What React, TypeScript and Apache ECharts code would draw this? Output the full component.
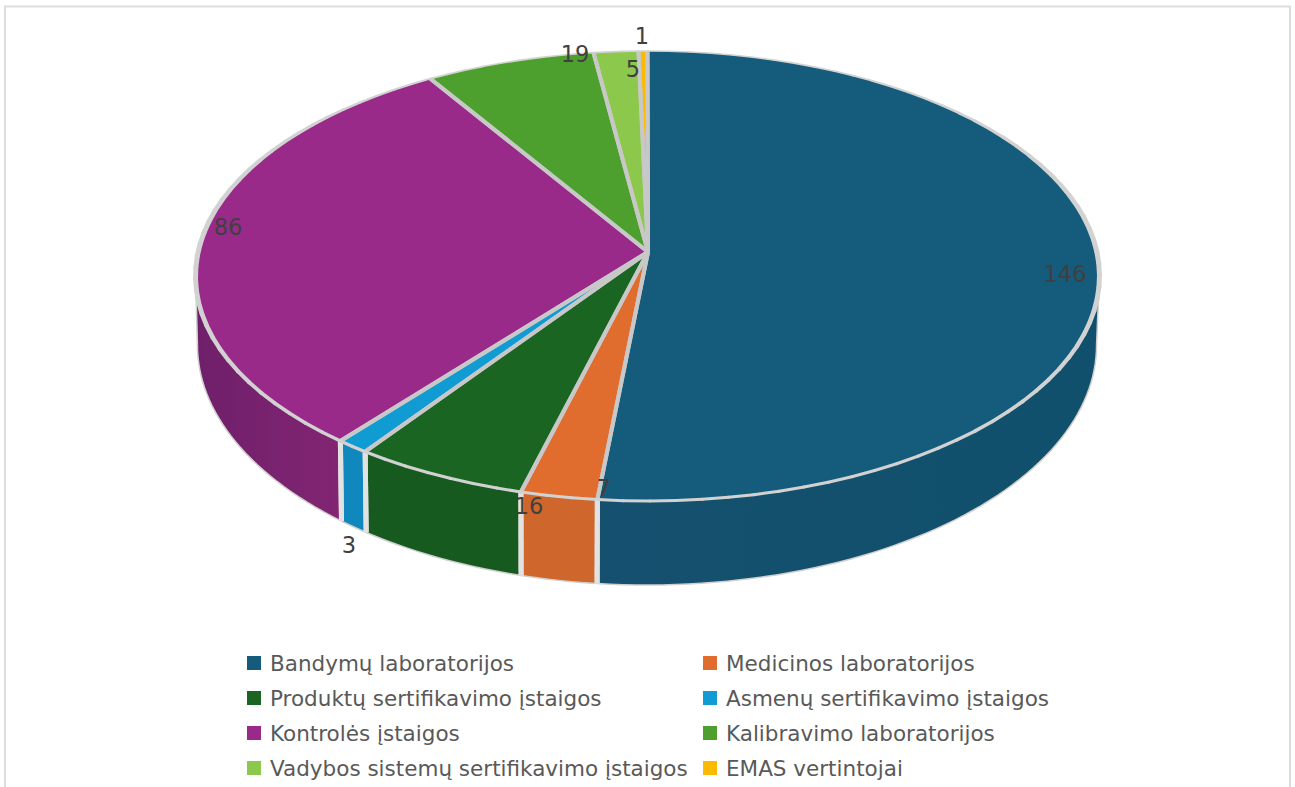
import React, { useEffect, useRef } from "react";
import * as echarts from "echarts";

const categories = [
  "Bandymų laboratorijos",
  "Medicinos laboratorijos",
  "Produktų sertifikavimo įstaigos",
  "Asmenų sertifikavimo įstaigos",
  "Kontrolės įstaigos",
  "Kalibravimo laboratorijos",
  "Vadybos sistemų sertifikavimo įstaigos",
  "EMAS vertintojai",
];
const values = [146, 7, 16, 3, 86, 19, 5, 1];
const topColors = ["#155b7c", "#e06c2e", "#1b6523", "#119bd3", "#992a8a", "#4ea02e", "#8cc84b", "#fbb900"];
const wallStart = ["#15506f", "#cf662b", "#165a1f", "#1088bd", "#6f1f6a", "#459628", "#80bb42", "#e0a800"];
const wallEnd = ["#10506d", "#cf662b", "#165a1f", "#1088bd", "#822573", "#459628", "#80bb42", "#e0a800"];
const labelCentres: number[][] = [
  [1065, 274], [604, 488], [529, 506], [349, 545], [228, 227], [575, 54], [633, 69], [642, 36],
];

const total = values.reduce((a, b) => a + b, 0);
const k = 0.1067;
const topPlane = { x0: 647.5, y0: 252, a: 449.4, b: 222.4 };
const basePlane = { x0: 647, y0: 319.4, a: 447, b: 237.3 };
const WALL_FROM = 96;
const WALL_TO = 264;
const FONT = "'DejaVu Sans'";

function rim(p: typeof topPlane, deg: number): number[] {
  const t = (deg * Math.PI) / 180;
  const u = Math.sin(t);
  const v = -Math.cos(t);
  const d = 1 - k * v;
  return [p.x0 + (p.a * u) / d, p.y0 + (p.b * v) / d];
}

function arcPoints(p: typeof topPlane, from: number, to: number): number[][] {
  const n = Math.max(2, Math.ceil((to - from) / 1.5));
  const pts: number[][] = [];
  for (let i = 0; i <= n; i++) pts.push(rim(p, from + ((to - from) * i) / n));
  return pts;
}

function rimWidth(deg: number): number {
  const t = (deg * Math.PI) / 180;
  const s2 = Math.sin(t) * Math.sin(t);
  return s2 * s2 * 5 + (1 - s2 * s2) * (Math.cos(t) > 0 ? 1.6 : 3);
}

function makeRender(index: number) {
  return (_params: any, api: any) => {
    const value = api.value(0);
    const before = values.slice(0, index).reduce((a, b) => a + b, 0);
    const from = (before / total) * 360;
    const to = ((before + value) / total) * 360;
    const children: any[] = [];

    const wFrom = Math.max(from, WALL_FROM);
    const wTo = Math.min(to, WALL_TO);
    if (wTo > wFrom) {
      const upper = arcPoints(topPlane, wFrom, wTo);
      const lower = arcPoints(basePlane, wFrom, wTo);
      children.push({
        type: "polygon",
        z2: 1,
        shape: { points: upper.concat(lower.slice().reverse()) },
        style: {
          fill: new echarts.graphic.LinearGradient(0, 0, 1, 0, [
            { offset: 0, color: wallStart[index] },
            { offset: 1, color: wallEnd[index] },
          ]),
        },
      });
      children.push({
        type: "polyline",
        z2: 2,
        shape: { points: lower },
        style: { fill: "none", stroke: "#cfcfcf", lineWidth: 1.5 },
      });
      [wFrom, wTo].forEach((deg, i) => {
        const open = i === 0 ? wFrom === from : wTo === to;
        const a = rim(topPlane, deg);
        const b = rim(basePlane, deg);
        children.push({
          type: "line",
          z2: open ? 3 : 2,
          shape: { x1: a[0], y1: a[1], x2: b[0], y2: b[1] },
          style: { stroke: open ? "#e2e2e2" : "#cfcfcf", lineWidth: open ? 5 : 1.5 },
        });
      });
    }

    const apex = [topPlane.x0 + 0.5, topPlane.y0];
    children.push({
      type: "polygon",
      z2: 10,
      shape: { points: [apex].concat(arcPoints(topPlane, from, to)) },
      style: { fill: topColors[index] },
    });
    [from, to].forEach((deg) => {
      const e = rim(topPlane, deg);
      children.push({
        type: "line",
        z2: 11,
        shape: { x1: apex[0], y1: apex[1], x2: e[0], y2: e[1] },
        style: { stroke: "#c8c8c8", lineWidth: 4 },
      });
    });
    const steps = Math.max(1, Math.ceil((to - from) / 3));
    for (let i = 0; i < steps; i++) {
      const d1 = from + ((to - from) * i) / steps;
      const d2 = from + ((to - from) * (i + 1)) / steps;
      const a = rim(topPlane, d1);
      const b = rim(topPlane, d2);
      children.push({
        type: "line",
        z2: 12,
        shape: { x1: a[0], y1: a[1], x2: b[0], y2: b[1] },
        style: { stroke: "#d2d2d2", lineWidth: rimWidth((d1 + d2) / 2), lineCap: "round" },
      });
    }
    children.push({
      type: "text",
      z2: 100,
      x: labelCentres[index][0],
      y: labelCentres[index][1],
      style: {
        text: String(value),
        fill: "#404040",
        font: `22.5px ${FONT}`,
        align: "center",
        verticalAlign: "middle",
      },
    });
    return { type: "group", children };
  };
}

export default function App() {
  const ref = useRef<HTMLDivElement>(null);
  useEffect(() => {
    document.body.style.margin = "0";
    document.body.style.overflow = "hidden";
    const chart = echarts.init(ref.current!, undefined, { renderer: "svg" });
    const legendBase = {
      orient: "vertical" as const,
      top: 652,
      itemWidth: 14,
      itemHeight: 14,
      itemGap: 13,
      icon: "rect",
      selectedMode: false,
      padding: 0,
      textStyle: { fontFamily: FONT, fontSize: 21.5, color: "#595959", padding: [0, 0, 0, 4] },
    };
    chart.setOption({
      animation: false,
      backgroundColor: "#ffffff",
      graphic: [
        {
          type: "rect",
          silent: true,
          shape: { x: 5, y: 6.5, width: 1285, height: 820 },
          style: { fill: "none", stroke: "#dddddd", lineWidth: 2 },
          z: 0,
        },
      ],
      legend: [
        { ...legendBase, left: 247, data: categories.filter((_, i) => i % 2 === 0) },
        { ...legendBase, left: 703, data: categories.filter((_, i) => i % 2 === 1) },
      ],
      series: categories.map((name, i) => ({
        type: "custom",
        name,
        coordinateSystem: "none",
        silent: true,
        itemStyle: { color: topColors[i] },
        data: [[values[i]]],
        renderItem: makeRender(i),
        z: 2,
      })),
    });
    return () => chart.dispose();
  }, []);
  return <div ref={ref} style={{ position: "absolute", left: 0, top: 0, width: 1295, height: 787 }} />;
}
